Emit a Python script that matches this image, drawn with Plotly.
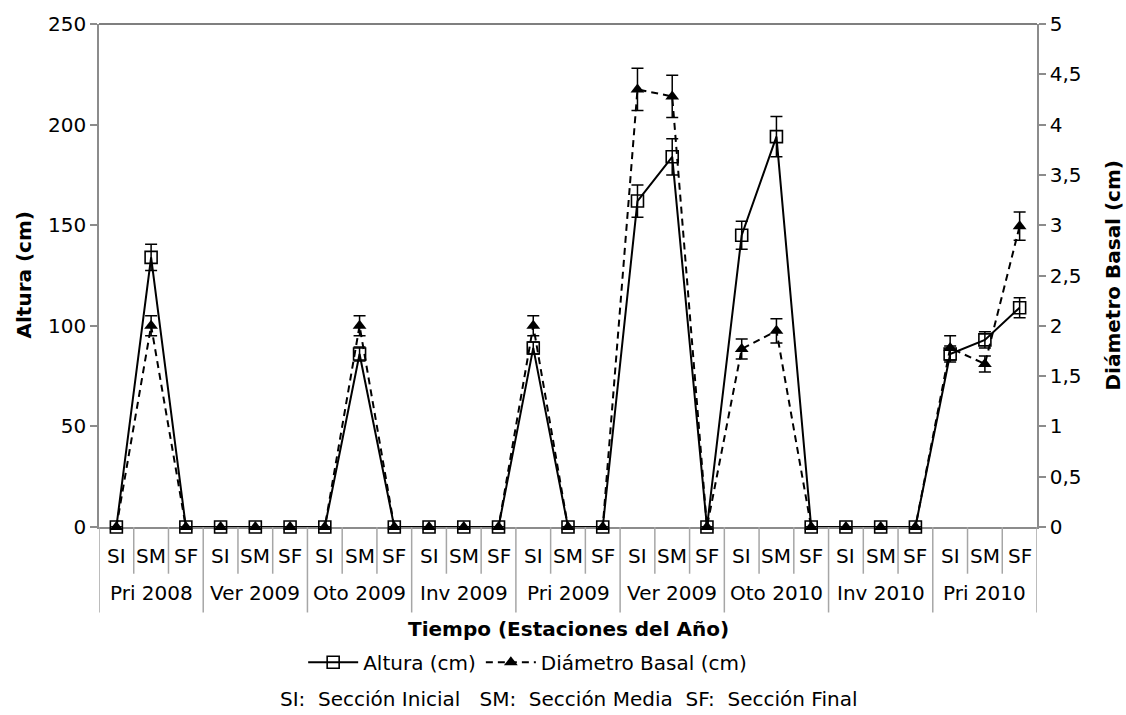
import plotly.graph_objects as go

# Seasons (outer level) and stream sections (inner level) of the x axis
seasons = ["Pri 2008", "Ver 2009", "Oto 2009", "Inv 2009", "Pri 2009",
           "Ver 2009", "Oto 2010", "Inv 2010", "Pri 2010"]
sections = ["SI", "SM", "SF"]

# Mean height (cm) and its error, one value per season/section
altura = [0, 134, 0,   0, 0, 0,   0, 86, 0,   0, 0, 0,   89, 0, 0,
          162, 184, 0,   145, 194, 0,   0, 0, 0,   86, 93, 109]
altura_err = [0, 6.5, 0,   0, 0, 0,   0, 3.5, 0,   0, 0, 0,   3, 0, 0,
              8, 9, 0,   7, 10, 0,   0, 0, 0,   4, 4, 5]

# Mean basal diameter (cm) and its error
diametro = [0, 2.0, 0,   0, 0, 0,   0, 2.0, 0,   0, 0, 0,   2.0, 0, 0,
            4.35, 4.28, 0,   1.77, 1.95, 0,   0, 0, 0,   1.78, 1.62, 2.99]
diametro_err = [0, 0.1, 0,   0, 0, 0,   0, 0.1, 0,   0, 0, 0,   0.1, 0, 0,
                0.21, 0.21, 0,   0.1, 0.12, 0,   0, 0, 0,   0.12, 0.08, 0.14]

footnote = "SI:\u00a0 Sección Inicial \u00a0 SM:\u00a0 Sección Media \u00a0SF:\u00a0 Sección Final"

FONT = "DejaVu Sans"
FS = 20
AXIS_GRAY = "#8c8c8c"
TICK_GRAY = "#a6a6a6"

labels = [s for _ in seasons for s in sections]
n = len(labels)
xs = list(range(n))

fig = go.Figure()

fig.add_trace(go.Scatter(
    x=xs, y=altura, name="Altura (cm)", mode="lines+markers",
    line=dict(color="black", width=2),
    marker=dict(symbol="square-open", size=12, color="black", line=dict(width=1.6)),
    error_y=dict(type="data", array=altura_err, color="black", thickness=1.5, width=6),
    cliponaxis=False,
))
fig.add_trace(go.Scatter(
    x=xs, y=diametro, name="Diámetro Basal (cm)", yaxis="y2", mode="lines+markers",
    line=dict(color="black", width=2, dash="7px,5px"),
    marker=dict(symbol="triangle-up", size=12, color="black"),
    error_y=dict(type="data", array=diametro_err, color="black", thickness=1.5, width=6),
    cliponaxis=False,
))

annotations = []
# inner level labels (sections)
for i, lab in enumerate(labels):
    annotations.append(dict(x=xs[i], y=0, xref="x", yref="paper", yshift=-29,
                            text=lab, showarrow=False, yanchor="middle",
                            font=dict(size=FS, family=FONT, color="black")))
# outer level labels (seasons), centred on their group
for g, season in enumerate(seasons):
    mid = xs[g * len(sections) + len(sections) // 2]
    annotations.append(dict(x=mid, y=0, xref="x", yref="paper", yshift=-66,
                            text=season, showarrow=False, yanchor="middle",
                            font=dict(size=FS, family=FONT, color="black")))
# axis titles
annotations.append(dict(x=0.5, y=0, xref="paper", yref="paper", yshift=-102,
                        text="<b>Tiempo (Estaciones del Año)</b>", showarrow=False,
                        yanchor="middle", font=dict(size=FS, family=FONT, color="black")))
annotations.append(dict(x=0, y=0.5, xref="paper", yref="paper", xshift=-76,
                        text="<b>Altura (cm)</b>", textangle=-90, showarrow=False,
                        xanchor="center", font=dict(size=FS, family=FONT, color="black")))
annotations.append(dict(x=1, y=0.5, xref="paper", yref="paper", xshift=75,
                        text="<b>Diámetro Basal (cm)</b>", textangle=-90, showarrow=False,
                        xanchor="center", font=dict(size=FS, family=FONT, color="black")))
annotations.append(dict(x=0.5, y=0, xref="paper", yref="paper", yshift=-172,
                        text=footnote, showarrow=False, yanchor="middle",
                        font=dict(size=FS, family=FONT, color="black")))

# category boundary lines below the axis
plot_h = 715 - 21 - 188
shapes = []
for b in range(n + 1):
    is_group = b % len(sections) == 0
    depth = 86 if is_group else 47
    shapes.append(dict(type="line", xref="x", yref="paper",
                       x0=b - 0.5, x1=b - 0.5, y0=0, y1=-depth / plot_h,
                       line=dict(color=TICK_GRAY, width=1.5)))
# top frame line
shapes.append(dict(type="line", xref="paper", yref="paper", x0=0, x1=1, y0=1, y1=1,
                   line=dict(color="black", width=1.2)))

fig.update_layout(
    width=1126, height=715,
    margin=dict(l=99, r=89, t=21, b=188),
    paper_bgcolor="white", plot_bgcolor="white",
    font=dict(family=FONT, size=FS, color="black"),
    separators=", ",
    showlegend=True,
    legend=dict(orientation="h", x=0.457, xanchor="center", y=-0.269, yanchor="middle",
                font=dict(size=FS, family=FONT), bgcolor="rgba(0,0,0,0)",
                itemwidth=50, tracegroupgap=0),
    xaxis=dict(range=[-0.5, n - 0.5], showticklabels=False, ticks="", showgrid=False,
               zeroline=False, showline=True, linecolor=AXIS_GRAY, linewidth=1.5,
               layer="below traces", fixedrange=True),
    yaxis=dict(range=[0, 250], dtick=50, tick0=0, ticks="outside", ticklen=7,
               tickcolor=AXIS_GRAY, tickwidth=1.5, showgrid=False, zeroline=False,
               showline=True, linecolor=AXIS_GRAY, linewidth=1.5,
               tickfont=dict(size=FS, family=FONT, color="black"),
               layer="below traces", fixedrange=True),
    yaxis2=dict(range=[0, 5], dtick=0.5, tick0=0, overlaying="y", side="right",
                ticks="outside", ticklen=7, tickcolor=AXIS_GRAY, tickwidth=1.5,
                showgrid=False, zeroline=False, showline=True, linecolor=AXIS_GRAY,
                linewidth=1.5, tickfont=dict(size=FS, family=FONT, color="black"),
                layer="below traces", fixedrange=True),
    annotations=annotations,
    shapes=shapes,
)

fig.write_html("out.html")
